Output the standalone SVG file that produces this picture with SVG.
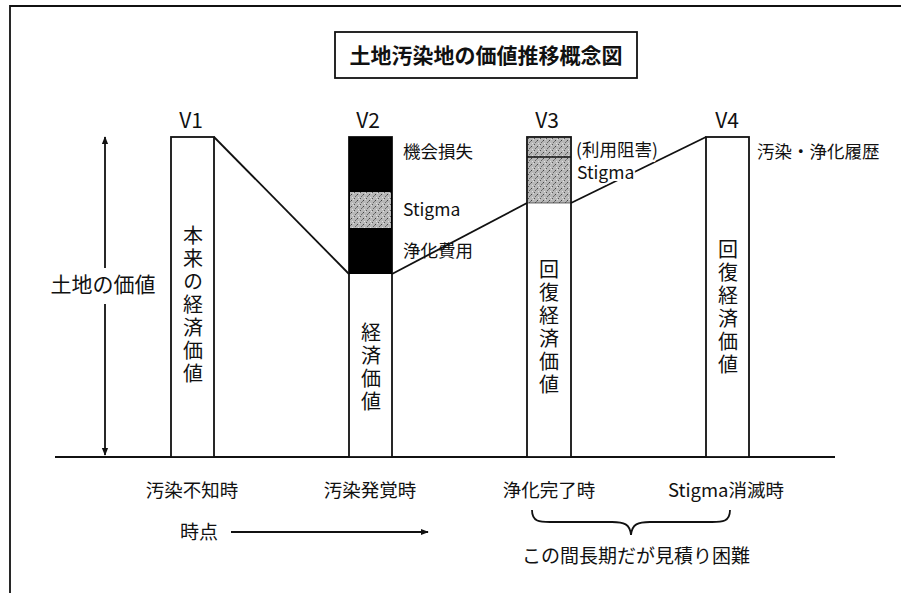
<svg xmlns="http://www.w3.org/2000/svg" width="901" height="593" viewBox="0 0 901 593">
<style>
text{font-family:"Noto Sans CJK JP","Noto Sans",sans-serif;fill:#111}
.ln{stroke:#111;stroke-width:1.8;fill:none}
.bar{fill:#fff;stroke:#111;stroke-width:1.8}
.v{font-size:21px;text-anchor:middle}
.vt{font-size:20px;writing-mode:vertical-rl;letter-spacing:3px}
.lb{font-size:17.5px}
.bt{font-size:18.5px;text-anchor:middle}
.halo{paint-order:stroke;stroke:#fff;stroke-width:4}
</style>
<defs>
<pattern id="stig" width="6" height="6" patternUnits="userSpaceOnUse">
<rect width="6" height="6" fill="#b8b8b8"/>
<rect x="0" y="0" width="1" height="1" fill="#555"/>
<rect x="3" y="2" width="1" height="1" fill="#444"/>
<rect x="1" y="4" width="1" height="1" fill="#666"/>
<rect x="4" y="5" width="1" height="1" fill="#e0e0e0"/>
<rect x="5" y="1" width="1" height="1" fill="#ddd"/>
<rect x="2" y="3" width="1" height="1" fill="#777"/>
</pattern>
<marker id="ah" viewBox="0 0 10 10" refX="9" refY="5" markerWidth="8" markerHeight="8" orient="auto-start-reverse" markerUnits="userSpaceOnUse">
<path d="M0,1 L10,5 L0,9 Z" fill="#111"/>
</marker>
</defs>
<rect width="901" height="593" fill="#fff"/>
<g id="frame">
<path class="ln" d="M10,593 V6 H901" stroke-width="1.5"/>
</g>
<g id="title">
<rect x="335" y="32" width="302" height="46" fill="#fff" stroke="#111" stroke-width="1.8"/>
<text x="486" y="63" font-size="21" font-weight="bold" text-anchor="middle">土地汚染地の価値推移概念図</text>
</g>
<g id="connectors">
<line class="ln" x1="55" y1="457" x2="835" y2="457"/>
<line class="ln" x1="214" y1="137" x2="349" y2="274"/>
<line class="ln" x1="392" y1="274" x2="527" y2="203"/>
<line class="ln" x1="571" y1="203" x2="706" y2="137"/>
<line class="ln" x1="105" y1="137" x2="105" y2="268" marker-start="url(#ah)"/>
<line class="ln" x1="105" y1="304" x2="105" y2="455" marker-end="url(#ah)"/>
<line class="ln" x1="231" y1="532" x2="428" y2="532" marker-end="url(#ah)"/>
<path class="ln" stroke-width="1.3" d="M532,510 C532,522 540,522 550,522 L612,522 C624,522 630,524 631,535 C632,524 638,522 650,522 L712,522 C722,522 730,522 730,510"/>
</g>
<g id="yaxis-label">
<text x="103" y="292" font-size="21" text-anchor="middle">土地の価値</text>
</g>
<g id="V1">
<text class="v" x="191" y="128">V1</text>
<rect class="bar" x="171" y="137" width="43" height="320"/>
<text class="vt" x="193" y="225">本来の経済価値</text>
<text class="bt" x="192" y="497">汚染不知時</text>
</g>
<g id="V2">
<text class="v" x="368" y="128">V2</text>
<rect class="bar" x="349" y="137" width="43" height="320"/>
<rect x="349" y="137" width="43" height="137" fill="#000"/>
<rect x="350" y="192" width="41" height="36" fill="url(#stig)"/>
<text class="vt" x="371" y="322">経済価値</text>
<text class="lb" x="403" y="158">機会損失</text>
<text class="lb" x="403" y="216">Stigma</text>
<text class="lb" x="403" y="257">浄化費用</text>
<text class="bt" x="370" y="497">汚染発覚時</text>
</g>
<g id="V3">
<text class="v" x="547" y="128">V3</text>
<rect class="bar" x="527" y="137" width="44" height="320"/>
<rect x="528" y="138" width="42" height="65" fill="url(#stig)"/>
<line x1="527" y1="157" x2="571" y2="157" stroke="#111" stroke-width="1.3"/>
<line x1="527" y1="203" x2="571" y2="203" stroke="#111" stroke-width="0.6"/>
<text class="vt" x="549" y="259">回復経済価値</text>
<text class="lb halo" x="576" y="156">(利用阻害)</text>
<text class="lb halo" x="577" y="179">Stigma</text>
<text class="bt" x="549" y="497">浄化完了時</text>
</g>
<g id="V4">
<text class="v" x="727" y="128">V4</text>
<rect class="bar" x="706" y="137" width="43" height="320"/>
<text class="vt" x="728" y="239">回復経済価値</text>
<text class="lb" x="757" y="158">汚染・浄化履歴</text>
<text class="bt" x="726" y="497">Stigma消滅時</text>
</g>
<g id="time-label">
<text x="180" y="539" font-size="19">時点</text>
</g>
<g id="note">
<text x="636" y="563" font-size="19" text-anchor="middle">この間長期だが見積り困難</text>
</g>
</svg>
